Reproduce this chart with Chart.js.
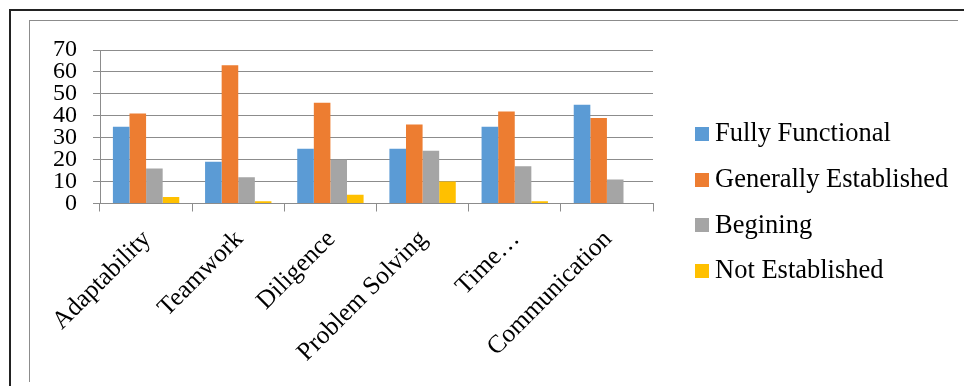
<!DOCTYPE html>
<html>
<head>
<meta charset="utf-8">
<script src="https://cdn.jsdelivr.net/npm/chart.js@4"></script>
<style>
  html, body { margin: 0; padding: 0; background: #fff; }
  #wrap { position: relative; width: 964px; height: 386px; overflow: hidden; }
  #outer { position: absolute; left: 9px; top: 9px; width: 960px; height: 400px;
           border-top: 2px solid #222; border-left: 2px solid #222; }
  #inner { position: absolute; left: 29px; top: 20px; width: 928px; height: 361px;
           border-top: 1px solid #8c8c8c; border-left: 1px solid #8c8c8c; }
  canvas { position: absolute; left: 0; top: 0; }
  #legend { position: absolute; left: 695px; top: 110px; font-family: 'Liberation Serif'; font-size: 26.5px; color: #000; }
  #legend .item { display: flex; align-items: center; height: 45.7px; white-space: nowrap; }
  #legend .box { width: 14px; height: 14px; margin-right: 6px; margin-top: 2px; }
</style>
</head>
<body>
<div id="wrap">
  <div id="outer"></div>
  <div id="inner"></div>
  <canvas id="chart" width="964" height="386"></canvas>
  <div id="legend"></div>
</div>
<script>
const skills = ['Adaptability', 'Teamwork', 'Diligence', 'Problem Solving', 'Time…', 'Communication'];
const fullyFunctional = [35, 19, 25, 25, 35, 45];
const generallyEstablished = [41, 63, 46, 36, 42, 39];
const begining = [16, 12, 20, 24, 17, 11];
const notEstablished = [3, 1, 4, 10, 1, 0];
const yTicks = [0, 10, 20, 30, 40, 50, 60, 70];

const serif = 'Liberation Serif';

const chart = new Chart(document.getElementById('chart'), {
    type: 'bar',
    data: {
        labels: skills,
        datasets: [
            { label: 'Fully Functional', data: fullyFunctional, backgroundColor: '#5B9BD5' },
            { label: 'Generally Established', data: generallyEstablished, backgroundColor: '#ED7D31' },
            { label: 'Begining', data: begining, backgroundColor: '#A5A5A5' },
            { label: 'Not Established', data: notEstablished, backgroundColor: '#FFC000' }
        ]
    },
    options: {
        responsive: false,
        animation: false,
        categoryPercentage: 0.72,
        barPercentage: 1,
        layout: { padding: { top: 50, bottom: 0, left: 0, right: 311 } },
        plugins: {
            legend: { display: false },
            tooltip: { enabled: false }
        },
        scales: {
            x: {
                afterFit: s => { s.height = 182.5; },
                grid: { drawOnChartArea: false, drawTicks: true, tickLength: 8, color: '#8c8c8c' },
                border: { color: '#8c8c8c' },
                ticks: {
                    minRotation: 45,
                    maxRotation: 45,
                    autoSkip: false,
                    padding: 13,
                    labelOffset: 1,
                    color: '#000',
                    font: { family: serif, size: 25.5 }
                }
            },
            y: {
                min: 0,
                max: 70,
                afterFit: s => { s.width = 100; },
                afterBuildTicks: s => { s.ticks = yTicks.map(v => ({ value: v })); },
                grid: { color: '#8c8c8c', tickLength: 7 },
                border: { color: '#8c8c8c' },
                ticks: {
                    autoSkip: false,
                    padding: 16,
                    color: '#000',
                    font: { family: serif, size: 24 }
                }
            }
        }
    }
});

// leyenda en HTML con los colores de los datasets
const legendEl = document.getElementById('legend');
chart.data.datasets.forEach(ds => {
    const item = document.createElement('div');
    item.className = 'item';
    item.innerHTML = `<span class="box" style="background:${ds.backgroundColor}"></span><span>${ds.label}</span>`;
    legendEl.appendChild(item);
});
</script>
</body>
</html>
